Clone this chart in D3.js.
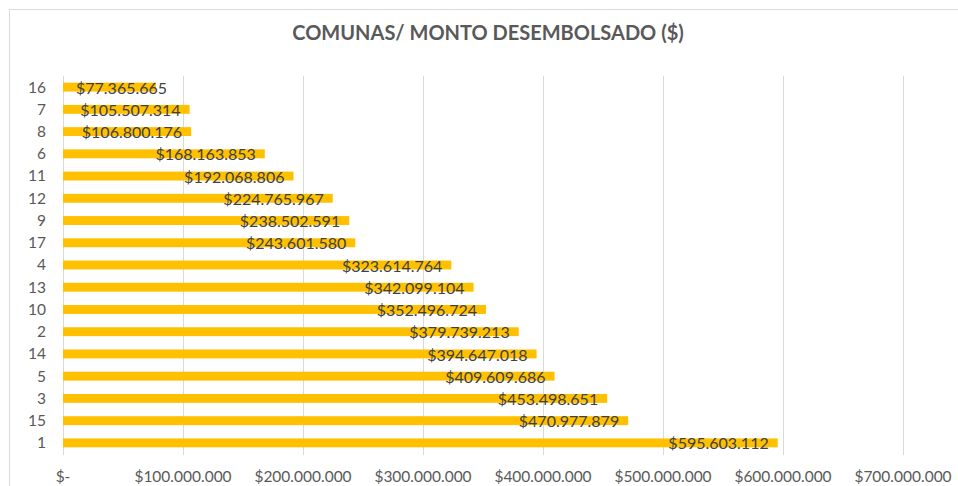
<!DOCTYPE html>
<html>
<head>
<meta charset="utf-8">
<script src="https://cdn.jsdelivr.net/npm/d3@7"></script>
<style>
  body { margin: 0; background: #fff; }
  svg { display: block; font-family: Lato, "Open Sans", sans-serif; }
</style>
</head>
<body>
<svg></svg>
<script>
const comunas = ["16", "7", "8", "6", "11", "12", "9", "17", "4", "13", "10", "2", "14", "5", "3", "15", "1"];
const montos = [77365665, 105507314, 106800176, 168163853, 192068806, 224765967, 238502591, 243601580,
    323614764, 342099104, 352496724, 379739213, 394647018, 409609686, 453498651, 470977879, 595603112];
const ticks = [0, 100000000, 200000000, 300000000, 400000000, 500000000, 600000000, 700000000];

const w = 958;
const h = 486;

const svg = d3.select("svg")
    .attr("width", w)
    .attr("height", h)
    .attr("viewBox", [0, 0, w, h]);

svg.append("rect").attr("width", w).attr("height", h).attr("fill", "white");

// chart area border
svg.append("rect")
    .attr("x", 9.5).attr("y", 9.5)
    .attr("width", w).attr("height", h)
    .attr("fill", "none")
    .attr("stroke", "#d9d9d9");

const locale = d3.formatLocale({decimal: ",", thousands: ".", grouping: [3], currency: ["$", ""]});
const fmt = locale.format("$,.0f");

const x = d3.scaleLinear().domain([0, 700000000]).range([63, 903]);
const y = d3.scaleBand().domain(comunas).range([76, 454]).paddingInner(0.6).paddingOuter(0.3);

svg.append("text")
    .attr("x", 488).attr("y", 40)
    .attr("text-anchor", "middle")
    .attr("font-size", 20)
    .attr("font-weight", "bold")
    .attr("fill", "#595959")
    .text("COMUNAS/ MONTO DESEMBOLSADO ($)");

// gridlines
svg.append("g")
    .selectAll("line")
    .data(ticks)
    .join("line")
    .attr("x1", d => Math.round(x(d)) + 0.5)
    .attr("x2", d => Math.round(x(d)) + 0.5)
    .attr("y1", 76)
    .attr("y2", 455)
    .attr("stroke", "#d9d9d9");

// x tick labels
svg.append("g")
    .selectAll("text")
    .data(ticks)
    .join("text")
    .attr("x", d => x(d))
    .attr("y", 482)
    .attr("text-anchor", "middle")
    .attr("font-size", 15.5)
    .attr("fill", "#595959")
    .text(d => d === 0 ? "$-" : fmt(d));

// y labels
svg.append("g")
    .selectAll("text")
    .data(comunas)
    .join("text")
    .attr("x", 46)
    .attr("y", d => y(d) + y.bandwidth() / 2)
    .attr("dy", "0.35em")
    .attr("text-anchor", "end")
    .attr("font-size", 15.5)
    .attr("fill", "#595959")
    .text(d => d);

const data = comunas.map((c, i) => ({comuna: c, monto: montos[i]}));

svg.append("g")
    .selectAll("rect")
    .data(data)
    .join("rect")
    .attr("x", x(0))
    .attr("y", d => y(d.comuna))
    .attr("width", d => x(d.monto) - x(0))
    .attr("height", y.bandwidth())
    .attr("fill", "#ffc000");

const labels = svg.append("g")
    .selectAll("text")
    .data(data)
    .join("text")
    .attr("y", d => y(d.comuna) + y.bandwidth() / 2 + 1)
    .attr("dy", "0.35em")
    .attr("font-size", 16)
    .attr("fill", "#404040")
    .text(d => fmt(d.monto));

labels.each(function(d) {
    const len = this.getComputedTextLength();
    let start = x(d.monto) - 9 - len;
    if (start < x(0) + 13) start = x(0) + 13;
    d3.select(this).attr("x", start);
});
</script>
</body>
</html>
